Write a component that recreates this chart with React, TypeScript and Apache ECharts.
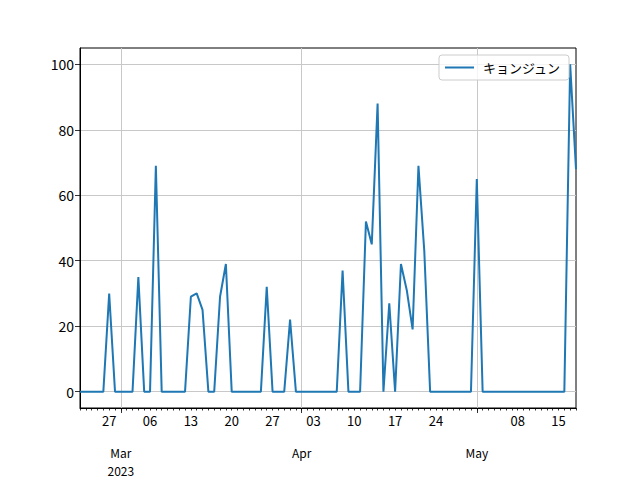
import React, { useEffect, useRef } from "react";
import * as echarts from "echarts";

const seriesName = "キョンジュン";
const startDate = "2023-02-22";
const dayCount = 86;
const values: number[] = [
  0, 0, 0, 0, 0, 30, 0, 0, 0, 0,
  35, 0, 0, 69, 0, 0, 0, 0, 0, 29,
  30, 25, 0, 0, 29, 39, 0, 0, 0, 0,
  0, 0, 32, 0, 0, 0, 22, 0, 0, 0,
  0, 0, 0, 0, 0, 37, 0, 0, 0, 52,
  45, 88, 0, 27, 0, 39, 31, 19, 69, 43,
  0, 0, 0, 0, 0, 0, 0, 0, 65, 0,
  0, 0, 0, 0, 0, 0, 0, 0, 0, 0,
  0, 0, 0, 0, 100, 68,
];
const yTicks = [0, 20, 40, 60, 80, 100];
const monthNames = ["Jan", "Feb", "Mar", "Apr", "May", "Jun", "Jul", "Aug", "Sep", "Oct", "Nov", "Dec"];

function buildDates(): Date[] {
  const out: Date[] = [];
  const s = new Date(startDate + "T00:00:00Z");
  for (let i = 0; i < dayCount; i++) {
    out.push(new Date(s.getTime() + i * 86400000));
  }
  return out;
}

const FONT = "'Noto Sans CJK JP', 'DejaVu Sans', sans-serif";
const GRID_COLOR = "#c8c8c8";

export default function App() {
  const ref = useRef<HTMLDivElement>(null);
  useEffect(() => {
    if (!ref.current) return;
    const chart = echarts.init(ref.current, undefined, { renderer: "svg" });
    const dates = buildDates();
    const cats = dates.map((d) => d.toISOString().slice(0, 10));
    const isMonthStart = (i: number) => dates[i].getUTCDate() === 1;
    const isWeekLabel = (i: number) => dates[i].getUTCDay() === 1 && !isMonthStart(i);
    const firstMonthIdx = dates.findIndex((d) => d.getUTCDate() === 1);

    chart.setOption({
      animation: false,
      textStyle: { fontFamily: FONT },
      grid: {
        left: 80,
        right: 64,
        top: 48,
        bottom: 72,
        show: true,
        borderColor: "#000",
        borderWidth: 1,
        containLabel: false,
      },
      legend: {
        show: true,
        right: 71,
        top: 55,
        data: [seriesName],
        icon: "rect",
        itemWidth: 29,
        itemHeight: 2,
        itemGap: 8,
        padding: [6, 8, 6, 6],
        borderColor: "#cccccc",
        borderWidth: 1,
        borderRadius: 3,
        backgroundColor: "rgba(255,255,255,0.8)",
        textStyle: { fontFamily: FONT, fontSize: 13, color: "#000", padding: [0, 0, 0, 4] },
      },
      xAxis: [
        {
          type: "category",
          data: cats,
          boundaryGap: false,
          position: "bottom",
          axisLine: { show: true, onZero: false, lineStyle: { color: "#000", width: 1 } },
          axisTick: {
            show: true,
            interval: 0,
            length: 2.5,
            lineStyle: { color: "#000", width: 0.8 },
          },
          axisLabel: {
            show: true,
            interval: (i: number) => isWeekLabel(i),
            formatter: (v: string) => v.slice(8, 10),
            fontFamily: FONT,
            fontSize: 13,
            color: "#000",
            margin: 6,
          },
          splitLine: { show: false },
        },
        {
          type: "category",
          data: cats,
          boundaryGap: false,
          position: "bottom",
          axisLine: { show: false, onZero: false },
          axisTick: {
            show: true,
            interval: (i: number) => isMonthStart(i),
            length: 5,
            lineStyle: { color: "#000", width: 0.8 },
          },
          axisLabel: {
            show: true,
            interval: (i: number) => isMonthStart(i),
            formatter: (_v: string, i: number) => monthNames[dates[i].getUTCMonth()],
            fontFamily: FONT,
            fontSize: 12,
            lineHeight: 12,
            color: "#000",
            margin: 38.5,
          },
          splitLine: {
            show: true,
            interval: (i: number) => isMonthStart(i),
            lineStyle: { color: GRID_COLOR, width: 1 },
          },
        },
        {
          type: "category",
          data: cats,
          boundaryGap: false,
          position: "bottom",
          axisLine: { show: false, onZero: false },
          axisTick: { show: false },
          axisLabel: {
            show: true,
            interval: (i: number) => i === firstMonthIdx,
            formatter: (_v: string, i: number) => String(dates[i].getUTCFullYear()),
            fontFamily: FONT,
            fontSize: 12,
            lineHeight: 12,
            color: "#000",
            margin: 56.5,
          },
          splitLine: { show: false },
        },
      ],
      yAxis: {
        type: "value",
        min: -5,
        max: 105,
        axisLine: { show: true, onZero: false, lineStyle: { color: "#000", width: 1 } },
        axisTick: {
          show: true,
          length: 5,
          customValues: yTicks,
          lineStyle: { color: "#000", width: 0.8 },
        },
        axisLabel: {
          show: true,
          customValues: yTicks,
          fontFamily: FONT,
          fontSize: 14,
          color: "#000",
          margin: 6,
        },
        splitLine: { show: true, lineStyle: { color: GRID_COLOR, width: 1 } },
      },
      series: [
        {
          name: seriesName,
          type: "line",
          data: values,
          showSymbol: false,
          symbol: "none",
          lineStyle: { color: "#1f77b4", width: 2 },
          itemStyle: { color: "#1f77b4" },
        },
      ],
    });
    return () => chart.dispose();
  }, []);
  return <div ref={ref} style={{ width: 640, height: 480, position: "absolute", left: 0, top: 0 }} />;
}
